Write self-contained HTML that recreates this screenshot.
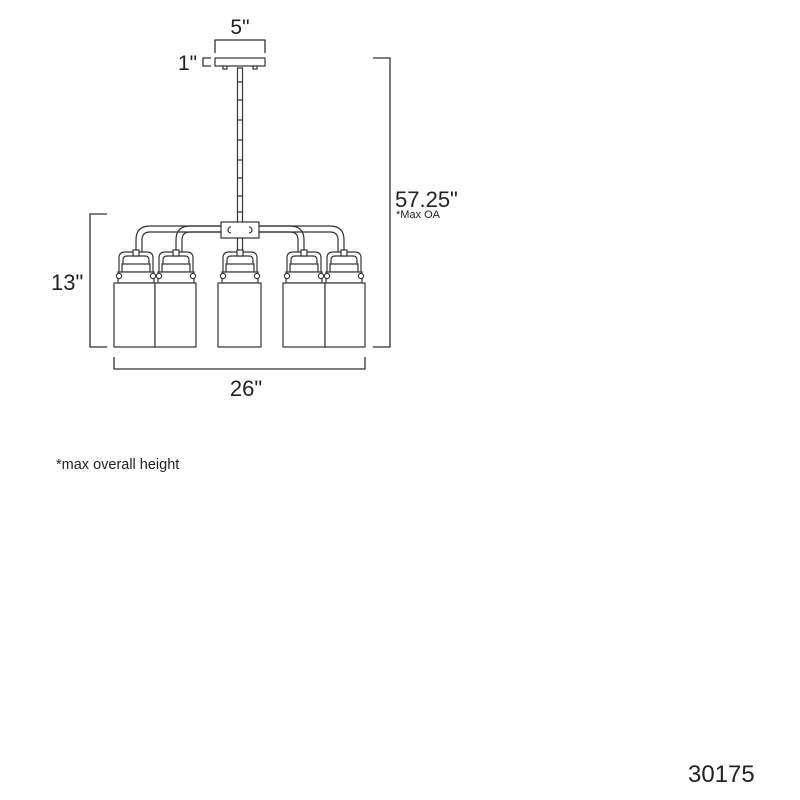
<!DOCTYPE html>
<html><head><meta charset="utf-8"><style>
html,body{margin:0;padding:0;background:#fff;}
svg{display:block}
text{font-family:"Liberation Sans",sans-serif;fill:#222;}
</style></head><body>
<svg width="800" height="800" viewBox="0 0 800 800">
<defs>
<g id="sock" fill="#fff" stroke="#333" stroke-width="1.2">
  <path d="M-17,273 V258 Q-17,252 -11,252 H11 Q17,252 17,258 V273"/>
  <path d="M-13,273 V260 Q-13,256 -9,256 H9 Q13,256 13,260 V273"/>
  <rect x="-3" y="250" width="6" height="6"/>
  <rect x="-14" y="264" width="28" height="8"/>
  <rect x="-18" y="272" width="36" height="11"/>
  <circle cx="-17" cy="276" r="2.6"/>
  <circle cx="17" cy="276" r="2.6"/>
</g>
</defs>
<g fill="none" stroke="#333" stroke-width="1.3">
  <path d="M215,53 V40 H265 V53"/>
  <path d="M211,58 H203 V66 H211"/>
  <path d="M373,58 H390 V347 H373"/>
  <path d="M107,214 H90 V347 H107"/>
  <path d="M114,357 V369 H365 V357"/>
</g>
<g fill="#fff" stroke="#333" stroke-width="1.2">
  <rect x="215" y="58" width="50" height="8"/>
  <rect x="223" y="66" width="4" height="3"/>
  <rect x="253" y="66" width="4" height="3"/>
  <rect x="237.5" y="68" width="5" height="156"/>
  <path d="M237.5,82 h5 M237.5,100 h5 M237.5,120 h5 M237.5,140 h5 M237.5,160 h5 M237.5,178 h5 M237.5,196 h5 M237.5,212 h5"/>
  <path d="M225,226 H150 Q136,226 136,240 V252 M225,232 H150 Q142,232 142,240 V252" fill="none"/>
  <path d="M225,226 H190 Q176,226 176,240 V252 M225,232 H190 Q182,232 182,240 V252" fill="none"/>
  <path d="M255,226 H330 Q344,226 344,240 V252 M255,232 H330 Q338,232 338,240 V252" fill="none"/>
  <path d="M255,226 H290 Q304,226 304,240 V252 M255,232 H290 Q298,232 298,240 V252" fill="none"/>
  <rect x="221" y="222" width="38" height="16"/>
  <path d="M231,227 a3,3 0 0 0 0,6 M249,227 a3,3 0 0 1 0,6" fill="none"/>
  <rect x="237.5" y="238" width="5" height="14"/>
</g>
<use href="#sock" x="136" y="0"/>
<use href="#sock" x="176" y="0"/>
<use href="#sock" x="240" y="0"/>
<use href="#sock" x="304" y="0"/>
<use href="#sock" x="344" y="0"/>
<g fill="#fff" stroke="#333" stroke-width="1.2">
  <rect x="114" y="283" width="41" height="64"/>
  <rect x="155" y="283" width="41" height="64"/>
  <rect x="218" y="283" width="43" height="64"/>
  <rect x="283" y="283" width="42" height="64"/>
  <rect x="325" y="283" width="40" height="64"/>
</g>
<text x="240" y="34" font-size="21" text-anchor="middle">5"</text>
<text x="178" y="70" font-size="21">1"</text>
<text x="395" y="207" font-size="22">57.25"</text>
<text x="396" y="218" font-size="11">*Max OA</text>
<text x="51" y="290" font-size="22">13"</text>
<text x="246" y="396" font-size="22" text-anchor="middle">26"</text>
<text x="56" y="469" font-size="14.5">*max overall height</text>
<text x="688" y="782" font-size="24">30175</text>
</svg>
</body></html>
